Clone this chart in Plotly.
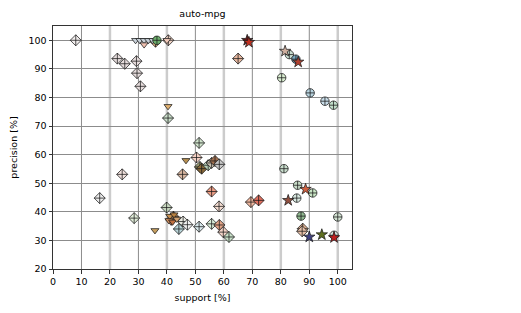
import plotly.graph_objects as go

# ---- data ----
dia_x = [8, 22.6, 25.2, 29.3, 29.5, 30.7, 36, 40.5, 40.4, 51.3, 50.4, 51.6, 52.2, 54.5, 55.7, 56.9, 58.4,
         45.5, 24.3, 16.4, 39.9, 28.5, 44.2, 45.7, 47.2, 51.3, 55.7, 58.4, 59.8, 61.8, 55.7, 58.3, 69.5,
         72.2, 65, 87.7, 87.5, 41.5, 42.3]
dia_y = [100, 93.6, 91.8, 92.7, 88.5, 83.9, 99.5, 100, 72.8, 64.1, 59.0, 55.7, 55.1, 56.3, 57.1, 57.8, 56.6,
         53.1, 53.1, 44.8, 41.5, 37.8, 34.0, 36.6, 35.5, 34.8, 35.8, 35.4, 32.9, 31.2, 47.1, 41.9, 43.4,
         44.0, 93.6, 34.1, 33.2, 37.2, 38.3]
dia_c = ["#f2eeee", "#e6dcdc", "#e6dcdc", "#e6dcdc", "#e6dcdc", "#e6dcdc", "#d8b080", "#f0d2c4", "#c8dcc8",
         "#d0e4cc", "#f4d0c4", "#9a9a70", "#8a6a3a", "#b8d0b8", "#c8c0b0", "#a07050", "#c8c8c8",
         "#dab8a2", "#f0e0dc", "#ececec", "#c8d8c0", "#e0ecd8", "#b8d4d8", "#ecece4", "#f2f2f2", "#d8e8ec",
         "#d8ecd8", "#e2a488", "#f4d4c8", "#c8e0c8", "#ec9c84", "#f4dcd0", "#f0b8a0", "#e07060", "#e8b8a0",
         "#e0b090", "#e8c0a8", "#e09070", "#d8a070"]

cir_x = [36.5, 83, 85.3, 80.3, 90.3, 95.5, 98.5, 81.1, 85.9, 91.2, 85.6, 87.1, 100, 98.7]
cir_y = [100, 95, 93.4, 86.9, 81.6, 78.7, 77.3, 55.1, 49.3, 46.6, 44.8, 38.5, 38.2, 31.8]
cir_c = ["#6fb06f", "#c8dcd0", "#78a8c0", "#d8ecd0", "#b8d4e0", "#c8dce8", "#c0dcc8", "#c8dccc", "#c8dcc8",
         "#c8e4c4", "#d8e8e0", "#90b890", "#d0e0d0", "#d8e8e0"]

star_x = [68.2, 68.8, 81.5, 86.1, 88.7, 82.6, 94.4, 98.7, 90.0]
star_y = [100, 99.3, 96.2, 92.4, 47.9, 44.0, 32.0, 31.0, 31.2]
star_c = ["#601818", "#c03020", "#d0b0a0", "#b04030", "#d06040", "#905040", "#607020", "#c02020", "#404080"]

tri_x = [29, 30.5, 32, 33.5, 35, 32, 40, 40.4, 46.7, 35.8, 41, 42.5, 40.7, 42, 43.5]
tri_y = [100, 100, 100, 100, 100, 98.5, 100, 76.9, 58.0, 33.5, 38.5, 39, 37, 36.5, 37.5]
tri_c = ["#c8d0d8", "#c8d0d8", "#c8d0d8", "#c8d0d8", "#c8d0d8", "#f0c0b0", "#f0c8b8", "#e0b070", "#b89050",
         "#c8a060", "#c89050", "#b88040", "#d09060", "#c07040", "#d0a070"]

x_ticks = list(range(0, 101, 10))
y_ticks = list(range(20, 101, 10))
title = "auto-mpg"
x_title = "support [%]"
y_title = "precision [%]"

FONT = "DejaVu Sans"
line = dict(color="#1a1a1a", width=0.75)

fig = go.Figure()
fig.add_trace(go.Scatter(x=dia_x, y=dia_y, mode="markers",
                         marker=dict(symbol="diamond-cross", size=8.5, color=dia_c, line=line)))
fig.add_trace(go.Scatter(x=tri_x, y=tri_y, mode="markers",
                         marker=dict(symbol="triangle-down", size=7, color=tri_c, line=line)))
fig.add_trace(go.Scatter(x=cir_x, y=cir_y, mode="markers",
                         marker=dict(symbol="circle-cross", size=8.5, color=cir_c, line=line)))
fig.add_trace(go.Scatter(x=star_x, y=star_y, mode="markers",
                         marker=dict(symbol="star", size=8.5, color=star_c, line=line)))

# vertical grid: dark thin at odd tens, light wide at multiples of 20
for v in x_ticks:
    if v == 0:
        continue
    if v % 20 == 0:
        st = dict(color="#cccccc", width=2.5)
    else:
        st = dict(color="#8c8c8c", width=1)
    fig.add_shape(type="line", xref="x", yref="paper", x0=v, x1=v, y0=0, y1=1,
                  line=st, layer="below")

axis_common = dict(showline=True, linecolor="#333333", linewidth=1, mirror=True,
                   ticks="outside", ticklen=3.5, tickcolor="#333333", tickwidth=0.8,
                   zeroline=False, automargin=False,
                   tickfont=dict(family=FONT, size=9.5, color="#000"))

fig.update_layout(
    width=521, height=313,
    margin=dict(l=53, r=169, t=26, b=44),
    paper_bgcolor="white", plot_bgcolor="white",
    showlegend=False,
    title=dict(text=title, x=(53 + 352) / 2 / 521, xanchor="center", y=1 - 14 / 313, yanchor="middle",
               font=dict(family=FONT, size=9.5, color="#000")),
    xaxis=dict(range=[0, 105], tickvals=x_ticks, ticktext=[str(v) for v in x_ticks], showgrid=False,
               title=dict(text=x_title, font=dict(family=FONT, size=9.5, color="#000"), standoff=8),
               **axis_common),
    yaxis=dict(range=[20, 105], tickvals=y_ticks, ticktext=[str(v) for v in y_ticks],
               showgrid=True, gridcolor="#8c8c8c", gridwidth=1,
               title=dict(text=y_title, font=dict(family=FONT, size=9.5, color="#000"), standoff=9),
               **axis_common),
)

fig.write_html("out.html", config={"displayModeBar": False},
               post_script="document.body.style.margin='0px';document.body.style.padding='0px';")
